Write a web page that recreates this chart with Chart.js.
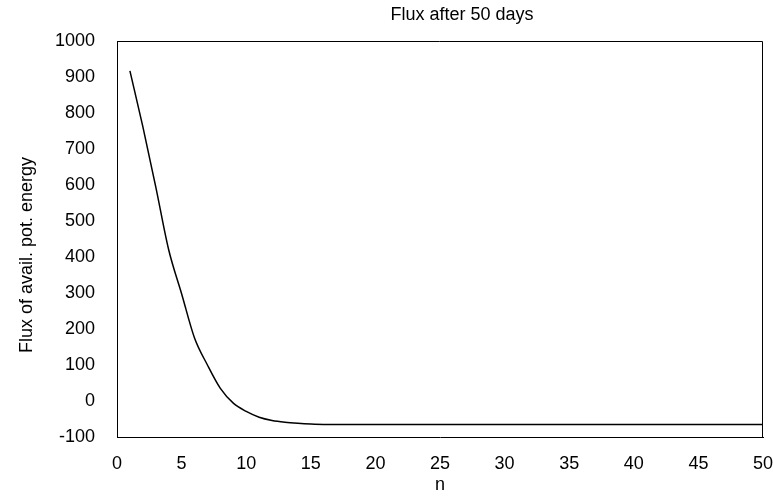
<!DOCTYPE html>
<html>
<head>
<meta charset="utf-8">
<title>Flux after 50 days</title>
<script src="https://cdn.jsdelivr.net/npm/chart.js@4"></script>
<style>
  html, body { margin: 0; padding: 0; background: #fff; }
  #wrap { width: 773px; height: 499px; }
</style>
</head>
<body>
<div id="wrap"><canvas id="fluxChart" width="773" height="499"></canvas></div>
<script>
// Data
const nValues = [
  1, 2, 3, 4, 5, 6, 7, 8, 9, 10,
  11, 12, 13, 14, 15, 16, 17, 18, 19, 20,
  21, 22, 23, 24, 25, 26, 27, 28, 29, 30,
  31, 32, 33, 34, 35, 36, 37, 38, 39, 40,
  41, 42, 43, 44, 45, 46, 47, 48, 49, 50,
]
const fluxValues = [
  917, 762, 595, 420, 298, 175, 100, 35, -6, -29,
  -45, -54, -59, -62, -64, -65, -65, -65, -65, -65,
  -65, -65, -65, -65, -65, -65, -65, -65, -65, -65,
  -65, -65, -65, -65, -65, -65, -65, -65, -65, -65,
  -65, -65, -65, -65, -65, -65, -65, -65, -65, -65,
]
const xTicks = [0, 5, 10, 15, 20, 25, 30, 35, 40, 45, 50]
const yTicks = [-100, 0, 100, 200, 300, 400, 500, 600, 700, 800, 900, 1000]

const fontFamily = "'Liberation Sans', Arial, sans-serif"

// Top and right sides of the plot box, the chart title and the y title
const frameAndTitle = {
  id: "frameAndTitle",
  afterDraw(chart) {
    const { ctx, chartArea } = chart
    ctx.save()
    ctx.strokeStyle = "#000"
    ctx.lineWidth = 1
    ctx.beginPath()
    ctx.moveTo(chartArea.left, chartArea.top + 0.5)
    ctx.lineTo(chartArea.right - 0.5, chartArea.top + 0.5)
    ctx.lineTo(chartArea.right - 0.5, chartArea.bottom)
    ctx.stroke()
    ctx.fillStyle = "#000"
    ctx.font = "18px " + fontFamily
    ctx.textAlign = "center"
    ctx.textBaseline = "middle"
    ctx.fillText("Flux after 50 days", 462, 15)
    ctx.translate(27, 255)
    ctx.rotate(-Math.PI / 2)
    ctx.fillText("Flux of avail. pot. energy", 0, 0)
    ctx.restore()
  },
}

const chart = new Chart(document.getElementById("fluxChart"), {
  type: "line",
  data: {
    datasets: [
      {
        label: "Flux",
        data: nValues.map((n, i) => ({ x: n, y: fluxValues[i] })),
        borderColor: "#000",
        borderWidth: 1.5,
        pointRadius: 0,
        cubicInterpolationMode: "monotone",
        fill: false,
      },
    ],
  },
  options: {
    responsive: false,
    animation: false,
    layout: {
      padding: { top: 41, right: 0, bottom: 0, left: 0 },
    },
    plugins: {
      legend: { display: false },
      title: { display: false },
      tooltip: { enabled: false },
    },
    scales: {
      x: {
        type: "linear",
        min: 0,
        max: 50,
        afterBuildTicks: (scale) => {
          scale.ticks = xTicks.map((v) => ({ value: v }))
        },
        afterFit: (scale) => {
          scale.height = 62
          scale.paddingRight = 10
        },
        grid: { display: false },
        border: { display: true, color: "#000", width: 1 },
        ticks: {
          color: "#000",
          padding: 8,
          maxRotation: 0,
          font: { family: fontFamily, size: 18 },
          callback: (value) => String(value),
        },
        title: {
          display: true,
          text: "n",
          color: "#000",
          padding: { top: 0, bottom: 3 },
          font: { family: fontFamily, size: 18 },
        },
      },
      y: {
        min: -100,
        max: 1000,
        afterBuildTicks: (scale) => {
          scale.ticks = yTicks.map((v) => ({ value: v }))
        },
        afterFit: (scale) => {
          scale.width = 117
        },
        grid: { display: false },
        border: { display: true, color: "#000", width: 1 },
        ticks: {
          color: "#000",
          padding: 14,
          font: { family: fontFamily, size: 18 },
          callback: (value) => String(value),
        },
        title: { display: false },
      },
    },
  },
  plugins: [frameAndTitle],
})
</script>
</body>
</html>
